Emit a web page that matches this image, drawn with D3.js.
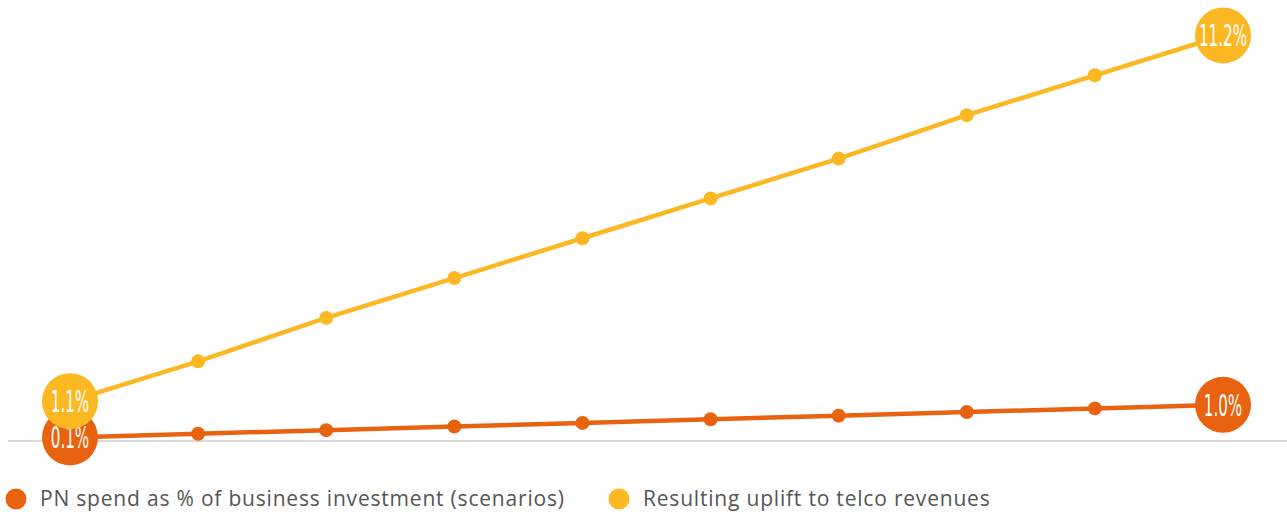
<!DOCTYPE html>
<html>
<head>
<meta charset="utf-8">
<title>PN spend vs telco uplift</title>
<script src="https://cdn.jsdelivr.net/npm/d3@7/dist/d3.min.js"></script>
<style>
  body { margin: 0; background: #fff; }
  svg { display: block; }
</style>
</head>
<body>
<svg width="1287" height="514"></svg>
<script>
    // scenario steps 1..10
    const steps = [1, 2, 3, 4, 5, 6, 7, 8, 9, 10];
    const pnSpend = [0.1, 0.2, 0.3, 0.4, 0.5, 0.6, 0.7, 0.8, 0.9, 1.0];
    const telcoUplift = [1.1, 2.2, 3.4, 4.5, 5.6, 6.7, 7.8, 9.0, 10.1, 11.2];
    const seriesNames = ["PN spend as % of business investment (scenarios)", "Resulting uplift to telco revenues"];
    const colors = ["#e8620f", "#fbb823"];

    const svg = d3.select("svg");

    var x = d3.scaleLinear()
        .domain([1, 10])
        .range([70, 1223]);
    var y = d3.scaleLinear()
        .domain([0, 12.18])
        .range([441, 0]);

    // baseline
    svg.append("line")
        .attr("x1", 8).attr("x2", 1287)
        .attr("y1", y(0)).attr("y2", y(0))
        .attr("stroke", "#d9d9d9")
        .attr("stroke-width", 2);

    const line = d3.line()
        .x((d, i) => x(steps[i]))
        .y(d => y(d));

    const fmt = d3.format(".1f");

    [pnSpend, telcoUplift].forEach((vals, s) => {
        const g = svg.append("g");
        g.append("path")
            .datum(vals)
            .attr("d", line)
            .attr("fill", "none")
            .attr("stroke", colors[s])
            .attr("stroke-width", 4.5);

        g.selectAll("circle.dot").data(vals).enter().append("circle")
            .attr("class", "dot")
            .attr("cx", (d, i) => x(steps[i]))
            .attr("cy", d => y(d))
            .attr("r", (d, i) => (i == 0 || i == vals.length - 1) ? 28 : 7)
            .attr("fill", colors[s]);

        // big end labels
        g.selectAll("text.lbl").data(vals.filter((d, i) => i == 0 || i == vals.length - 1)).enter().append("text")
            .attr("class", "lbl")
            .attr("transform", (d, i) => {
                const idx = i == 0 ? 0 : vals.length - 1;
                return "translate(" + x(steps[idx]) + "," + (y(d) + 11) + ") scale(0.56,1)";
            })
            .attr("text-anchor", "middle")
            .attr("fill", "#fff")
            .attr("font-family", "Liberation Sans Narrow, DejaVu Sans Condensed, sans-serif")
            .attr("font-size", 30)
            .text(d => fmt(d) + "%");
    });

    // legend
    const legendX = [16, 619];
    seriesNames.forEach((name, s) => {
        svg.append("circle")
            .attr("cx", legendX[s])
            .attr("cy", 499)
            .attr("r", 10.5)
            .attr("fill", colors[s]);
        svg.append("text")
            .attr("x", legendX[s] + 24)
            .attr("y", 506)
            .attr("fill", "#555")
            .attr("font-family", "Open Sans, sans-serif")
            .attr("font-size", 21)
            .attr("letter-spacing", 0.8)
            .text(name);
    });
</script>
</body>
</html>
